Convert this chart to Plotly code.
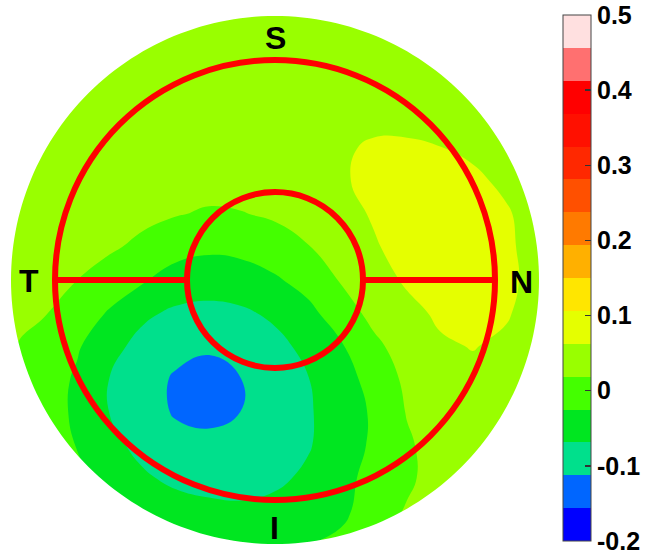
import math
import plotly.graph_objects as go

# ---------------- data ----------------
# grid positions in mm (disk radius 3 mm, ETDRS rings at 1 mm and 2.5 mm)
x_mm = [-3.0, -2.625, -2.25, -1.875, -1.5, -1.125, -0.75, -0.375, 0.0,
        0.375, 0.75, 1.125, 1.5, 1.875, 2.25, 2.625, 3.0]
y_mm = [-3.0, -2.625, -2.25, -1.875, -1.5, -1.125, -0.75, -0.375, 0.0,
        0.375, 0.75, 1.125, 1.5, 1.875, 2.25, 2.625, 3.0]

# estimated values, one row per y position, listed from top (y=3) to bottom (y=-3)
row_y_p3000 = [0.045, 0.045, 0.045, 0.045, 0.045, 0.045, 0.045, 0.045, 0.045, 0.046, 0.046, 0.046, 0.046, 0.045, 0.045, 0.045, 0.045]
row_y_p2625 = [0.045, 0.045, 0.045, 0.045, 0.045, 0.045, 0.045, 0.045, 0.046, 0.046, 0.047, 0.047, 0.047, 0.046, 0.046, 0.045, 0.045]
row_y_p2250 = [0.045, 0.045, 0.045, 0.045, 0.045, 0.045, 0.045, 0.045, 0.046, 0.047, 0.049, 0.050, 0.050, 0.049, 0.047, 0.046, 0.045]
row_y_p1875 = [0.045, 0.045, 0.045, 0.045, 0.045, 0.045, 0.045, 0.045, 0.046, 0.049, 0.052, 0.055, 0.057, 0.054, 0.051, 0.048, 0.046]
row_y_p1500 = [0.045, 0.045, 0.045, 0.045, 0.044, 0.044, 0.043, 0.043, 0.046, 0.049, 0.059, 0.066, 0.065, 0.063, 0.058, 0.052, 0.048]
row_y_p1125 = [0.045, 0.045, 0.045, 0.043, 0.040, 0.037, 0.034, 0.036, 0.039, 0.046, 0.061, 0.066, 0.074, 0.074, 0.067, 0.058, 0.050]
row_y_p0750 = [0.045, 0.044, 0.042, 0.038, 0.030, 0.021, 0.014, 0.017, 0.025, 0.036, 0.050, 0.066, 0.078, 0.082, 0.076, 0.065, 0.052]
row_y_p0375 = [0.044, 0.040, 0.033, 0.025, 0.008, -0.009, -0.017, -0.013, -0.002, 0.017, 0.039, 0.059, 0.076, 0.085, 0.082, 0.068, 0.050]
row_y_0000 = [0.041, 0.032, 0.019, -0.003, -0.021, -0.043, -0.050, -0.045, -0.030, -0.010, 0.022, 0.048, 0.067, 0.079, 0.081, 0.072, 0.048]
row_y_m0375 = [0.036, 0.021, -0.003, -0.029, -0.061, -0.076, -0.080, -0.075, -0.061, -0.036, -0.003, 0.032, 0.053, 0.068, 0.073, 0.066, 0.046]
row_y_m0750 = [0.021, 0.007, -0.020, -0.056, -0.082, -0.098, -0.104, -0.096, -0.080, -0.058, -0.029, 0.009, 0.039, 0.058, 0.064, 0.056, 0.052]
row_y_m1125 = [0.024, -0.002, -0.031, -0.070, -0.093, -0.118, -0.135, -0.112, -0.091, -0.070, -0.042, -0.010, 0.028, 0.046, 0.054, 0.055, 0.053]
row_y_m1500 = [0.024, -0.003, -0.033, -0.070, -0.093, -0.117, -0.121, -0.112, -0.093, -0.073, -0.048, -0.019, 0.021, 0.040, 0.048, 0.050, 0.049]
row_y_m1875 = [0.028, 0.003, -0.027, -0.058, -0.081, -0.097, -0.104, -0.100, -0.088, -0.072, -0.047, -0.018, 0.013, 0.037, 0.045, 0.047, 0.047]
row_y_m2250 = [0.033, 0.016, -0.013, -0.040, -0.063, -0.078, -0.083, -0.083, -0.076, -0.062, -0.040, -0.009, 0.012, 0.035, 0.044, 0.045, 0.045]
row_y_m2625 = [0.040, 0.028, 0.007, -0.016, -0.034, -0.051, -0.059, -0.062, -0.058, -0.047, -0.036, 0.000, 0.022, 0.041, 0.045, 0.045, 0.045]
row_y_m3000 = [0.042, 0.035, 0.026, 0.009, -0.008, -0.020, -0.027, -0.029, -0.032, -0.026, -0.014, 0.013, 0.033, 0.041, 0.045, 0.045, 0.045]

rows_top_down = [row_y_p3000, row_y_p2625, row_y_p2250, row_y_p1875, row_y_p1500,
                 row_y_p1125, row_y_p0750, row_y_p0375, row_y_0000, row_y_m0375,
                 row_y_m0750, row_y_m1125, row_y_m1500, row_y_m1875, row_y_m2250,
                 row_y_m2625, row_y_m3000]
z_values = rows_top_down[::-1]  # match ascending y_mm

# contour levels and band colours (lowest band first)
level_start = -0.2
level_end = 0.5
level_size = 0.04375
band_colors = ["#0000ff", "#0066ff", "#00e08c", "#00e620", "#44ff00", "#99ff00",
               "#e5ff00", "#ffe600", "#ffb000", "#ff7a00", "#ff5000", "#ff2800",
               "#ff1000", "#ff0000", "#ff7070", "#ffe0e0"]
tick_vals = [-0.2, -0.1, 0, 0.1, 0.2, 0.3, 0.4, 0.5]
tick_text = ["-0.2", "-0.1", "0", "0.1", "0.2", "0.3", "0.4", "0.5"]

sector_labels = ["S", "T", "N", "I"]

# ---------------- figure ----------------
n_bands = len(band_colors)
colorscale = []
for k, c in enumerate(band_colors):
    colorscale.append([k / n_bands, c])
    colorscale.append([(k + 1) / n_bands, c])

W, H = 652, 555
PLOT = 528
ML, MT = 11, 16
CB_TOP, CB_BOTTOM = 15, 541

fig = go.Figure()
fig.add_trace(go.Contour(
    x=x_mm, y=y_mm, z=z_values,
    zmin=level_start, zmax=level_end,
    autocontour=False,
    contours=dict(start=level_start, end=level_end, size=level_size,
                  coloring="fill", showlines=False),
    line=dict(width=0, smoothing=1.3),
    colorscale=colorscale,
    hoverinfo="skip",
    colorbar=dict(
        x=(563 - ML) / PLOT, xanchor="left", xpad=0,
        y=(MT + PLOT - (CB_TOP + CB_BOTTOM) / 2) / PLOT, yanchor="middle", ypad=0,
        len=CB_BOTTOM - CB_TOP, lenmode="pixels",
        thickness=28, thicknessmode="pixels",
        outlinewidth=1, outlinecolor="#444444",
        tickmode="array", tickvals=tick_vals, ticktext=tick_text,
        ticks="inside", ticklen=6, tickwidth=1.5, tickcolor="#333333",
        ticklabeloverflow="allow",
        tickfont=dict(family="Liberation Sans, Arial, sans-serif", size=25,
                      color="black", weight="bold"),
    ),
))

# white mask outside the 6 mm disk
R = 3.0
n = 240
circle_pts = [(R * math.cos(-2 * math.pi * i / n), R * math.sin(-2 * math.pi * i / n))
              for i in range(n + 1)]
path = "M 3.6,0 L 3.6,3.6 L -3.6,3.6 L -3.6,-3.6 L 3.6,-3.6 L 3.6,0 "
path += " ".join("L %.4f,%.4f" % p for p in circle_pts) + " Z"

shapes = [
    dict(type="path", path=path, xref="x", yref="y", fillcolor="white",
         fillrule="evenodd", line=dict(width=0), layer="above"),
    dict(type="circle", xref="x", yref="y", x0=-2.5, x1=2.5, y0=-2.5, y1=2.5,
         line=dict(color="#ff0000", width=6), layer="above"),
    dict(type="circle", xref="x", yref="y", x0=-1.0, x1=1.0, y0=-1.0, y1=1.0,
         line=dict(color="#ff0000", width=6), layer="above"),
    dict(type="line", xref="x", yref="y", x0=-2.5, x1=-1.0, y0=0, y1=0,
         line=dict(color="#ff0000", width=6), layer="above"),
    dict(type="line", xref="x", yref="y", x0=1.0, x1=2.5, y0=0, y1=0,
         line=dict(color="#ff0000", width=6), layer="above"),
]

label_pos = {"S": (0.01, 2.75), "T": (-2.79, -0.01), "N": (2.80, -0.02), "I": (-0.01, -2.82)}
annotations = []
for lab in sector_labels:
    lx, ly = label_pos[lab]
    annotations.append(dict(x=lx, y=ly, xref="x", yref="y", text="<b>%s</b>" % lab,
                            showarrow=False, xanchor="center", yanchor="middle",
                            font=dict(family="Liberation Sans, Arial, sans-serif",
                                      size=32, color="black")))

fig.update_layout(
    width=W, height=H,
    margin=dict(l=ML, r=W - ML - PLOT, t=MT, b=H - MT - PLOT, pad=0, autoexpand=False),
    paper_bgcolor="white", plot_bgcolor="white",
    xaxis=dict(range=[-3, 3], visible=False, fixedrange=True),
    yaxis=dict(range=[-3, 3], visible=False, fixedrange=True),
    shapes=shapes, annotations=annotations,
    showlegend=False,
)

# remove the default 8px page margin so the figure fills the window exactly
fig.write_html("out.html",
               config={"displayModeBar": False, "staticPlot": True},
               post_script="document.body.style.margin='0';document.body.style.overflow='hidden';")
